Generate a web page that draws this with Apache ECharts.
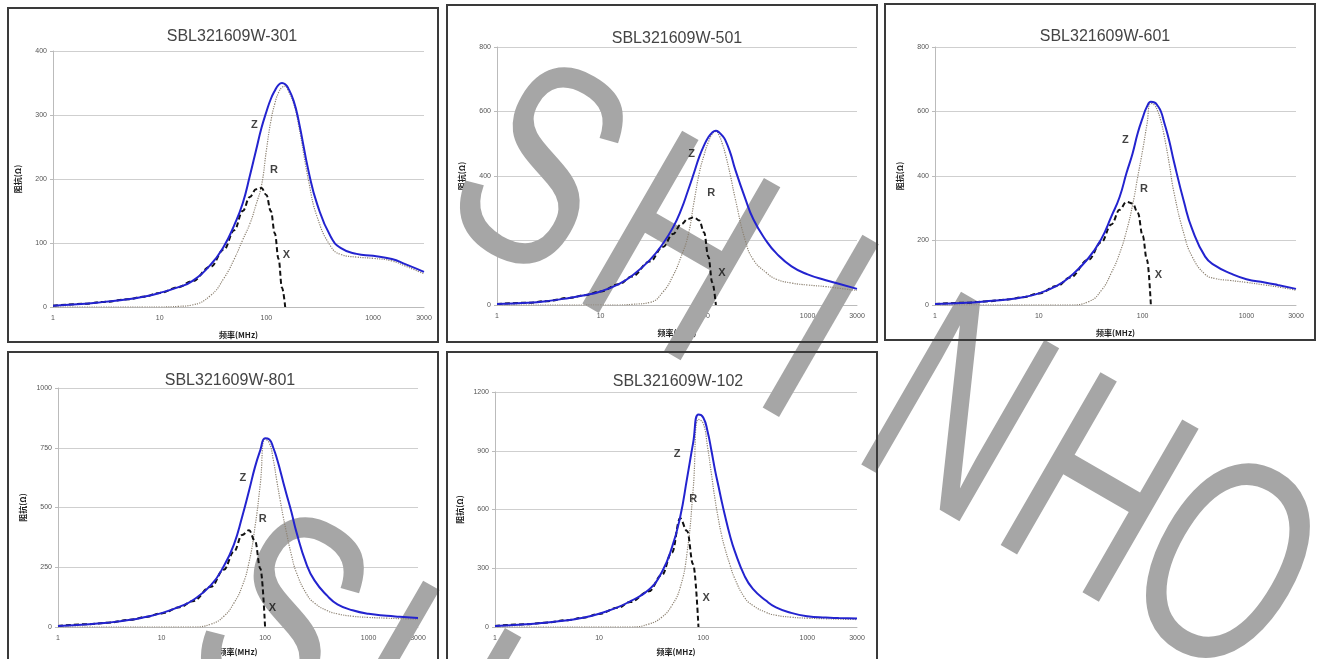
<!DOCTYPE html>
<html>
<head>
<meta charset="utf-8">
<script src="https://cdn.jsdelivr.net/npm/echarts@6/dist/echarts.min.js"></script>
<style>
  html, body { margin: 0; padding: 0; background: #fff; }
  #chart { width: 1318px; height: 659px; }
</style>
</head>
<body>
<div id="chart"></div>
<script>
// frequency points (MHz), shared by every panel
const freq = [1, 2, 3, 5, 7, 10, 15, 20, 30, 40, 50, 60, 70, 80, 90, 100, 110, 120, 130, 140,
  150, 160, 180, 200, 250, 300, 400, 500, 700, 1000, 1500, 2000, 3000];
const xTicks = [1, 10, 100, 1000, 3000];
const titles = ['SBL321609W-301', 'SBL321609W-501', 'SBL321609W-601', 'SBL321609W-801', 'SBL321609W-102'];
const yMax = [400, 800, 800, 1000, 1200];
const yStep = [100, 200, 200, 250, 300];

// impedance Z / resistance R / reactance X (ohm); X stops where it reaches 0
const z301 = [2, 5, 8, 12, 16, 22, 31, 40, 66, 95, 128, 162, 205, 245, 280, 305, 325, 338, 347, 350,
  348, 342, 322, 292, 210, 160, 110, 92, 83, 80, 75, 67, 55];
const r301 = [0, 0, 0, 0, 0, 0, 1, 3, 18, 45, 75, 105, 130, 160, 190, 245, 290, 318, 335, 343,
  345, 338, 318, 285, 195, 140, 95, 82, 78, 76, 72, 64, 52];
const x301 = [2, 5, 8, 12, 16, 22, 31, 40, 63, 90, 120, 150, 172, 184, 186, 175, 150, 115, 75, 30, 0];

const z501 = [3, 7, 12, 22, 30, 42, 65, 90, 140, 190, 240, 295, 355, 410, 460, 495, 520, 535, 540, 535,
  525, 512, 470, 420, 330, 265, 198, 160, 120, 95, 77, 66, 50];
const r501 = [0, 0, 0, 0, 0, 0, 0, 2, 8, 40, 90, 150, 215, 320, 410, 465, 505, 530, 538, 525,
  500, 470, 400, 330, 200, 140, 100, 80, 68, 62, 57, 52, 45];
const x501 = [3, 7, 12, 22, 30, 42, 64, 88, 135, 180, 220, 250, 267, 272, 262, 225, 150, 70, 0];

const z601 = [3, 7, 11, 17, 24, 36, 60, 88, 145, 205, 275, 335, 410, 470, 535, 580, 615, 630, 628, 617,
  600, 570, 510, 445, 320, 235, 150, 122, 98, 80, 70, 62, 50];
const r601 = [0, 0, 0, 0, 0, 0, 0, 0, 10, 45, 100, 160, 230, 310, 400, 480, 560, 625, 620, 600,
  570, 530, 440, 350, 220, 150, 95, 82, 76, 70, 62, 56, 46];
const x601 = [3, 7, 11, 17, 24, 36, 59, 85, 140, 195, 250, 295, 320, 315, 285, 215, 140, 0];

const z801 = [4, 12, 18, 30, 42, 58, 85, 112, 175, 255, 345, 460, 570, 670, 740, 790, 785, 750, 705, 655,
  605, 560, 480, 400, 265, 195, 130, 95, 70, 55, 47, 43, 38];
const r801 = [0, 0, 0, 0, 0, 0, 0, 0, 12, 45, 100, 170, 270, 420, 600, 785, 770, 700, 610, 530,
  460, 400, 300, 230, 140, 100, 68, 55, 45, 40, 37, 35, 33];
const x801 = [4, 12, 18, 30, 42, 57, 83, 108, 168, 240, 315, 385, 405, 360, 245, 0];

const z102 = [5, 14, 22, 35, 47, 68, 100, 132, 190, 280, 405, 560, 760, 940, 1085, 1070, 1000, 900, 800, 720,
  645, 580, 470, 390, 260, 195, 135, 100, 72, 55, 48, 46, 44];
const r102 = [0, 0, 0, 0, 0, 0, 0, 0, 15, 50, 110, 200, 380, 700, 1060, 1040, 920, 780, 650, 550,
  470, 410, 320, 250, 150, 110, 75, 60, 50, 45, 42, 40, 38];
const x102 = [5, 14, 22, 35, 47, 67, 98, 128, 182, 265, 380, 555, 490, 320, 0];

const zData = [z301, z501, z601, z801, z102];
const rData = [r301, r501, r601, r801, r102];
const xData = [x301, x501, x601, x801, x102];

// curve tags Z, R, X placed at [freq, ohm]
const tagNames = ['Z', 'R', 'X'];
const tagAt = [
  [[77, 284], [118, 214], [154, 81]],
  [[76, 468], [117, 347], [149, 99]],
  [[68, 512], [103, 360], [142, 93]],
  [[61, 622], [95, 452], [118, 78]],
  [[56, 886], [80, 653], [107, 146]]
];

// panel layout: plot area and outer frame
const plots = [
  { left: 53, top: 51, width: 371, height: 256 },
  { left: 497, top: 47, width: 360, height: 258 },
  { left: 935, top: 47, width: 361, height: 258 },
  { left: 58, top: 388, width: 360, height: 239 },
  { left: 495, top: 392, width: 362, height: 235 }
];
const frames = [
  [8, 8, 430, 334], [447, 5, 430, 337], [885, 4, 430, 336], [8, 352, 430, 320], [447, 352, 430, 320]
];
const titlePos = [[227, 24], [672, 26], [1100, 24], [225, 368], [673, 369]];

// watermark: letters, their offsets along the line, and the centre of the first letter per line
const markLetters = ['S', 'H', 'I', 'N', 'H', 'O'];
const markOffsets = [0, 161, 322, 483, 644, 792];
const markLines = [[532, 182], [273, 632]];

const chart = echarts.init(document.getElementById('chart'));

const pair = (vals) => vals.map((v, i) => [freq[i], v]);
const labelFont = { fontFamily: 'Liberation Sans', fontSize: 7, color: '#555' };
const nameFont = { fontFamily: 'Noto Sans CJK SC', fontSize: 8, fontWeight: 'bold', color: '#222' };

const grid = [], xAxis = [], yAxis = [], series = [], title = [];
plots.forEach((p, i) => {
  grid.push(p);
  title.push({
    text: titles[i], left: titlePos[i][0], top: titlePos[i][1], textAlign: 'center',
    textStyle: { fontFamily: 'Liberation Sans', fontSize: 16, fontWeight: 'normal', color: '#444' }
  });
  xAxis.push({
    type: 'log', logBase: 10, min: 1, max: 3000, gridIndex: i,
    name: '频率(MHz)', nameLocation: 'middle', nameGap: i < 3 ? 24 : 21, nameTextStyle: nameFont,
    axisLine: { lineStyle: { color: '#bbb' } },
    axisTick: { show: false },
    axisLabel: { ...labelFont, customValues: xTicks, formatter: (v) => String(Math.round(v)) },
    splitLine: { show: false }
  });
  yAxis.push({
    type: 'value', min: 0, max: yMax[i], interval: yStep[i], gridIndex: i,
    name: '阻抗(Ω)', nameLocation: 'middle', nameGap: 31, nameTextStyle: nameFont,
    axisLine: { show: true, lineStyle: { color: '#bbb' } },
    axisTick: { show: true, length: 3, lineStyle: { color: '#bbb' } },
    axisLabel: { ...labelFont, margin: 6, formatter: (v) => String(v) },
    splitLine: { lineStyle: { color: '#cfcfcf', width: 1 } }
  });
  const common = { type: 'line', xAxisIndex: i, yAxisIndex: i, showSymbol: false, z: 3 };
  series.push({ ...common, name: 'R', data: pair(rData[i]), smooth: 0.5,
    lineStyle: { color: '#8d8272', width: 1.2, type: 'dotted' }, itemStyle: { color: '#8d8272' } });
  series.push({ ...common, name: 'X', data: pair(xData[i]), smooth: 0.4, smoothMonotone: 'x',
    lineStyle: { color: '#111', width: 2, type: [5, 3] }, itemStyle: { color: '#111' } });
  series.push({ ...common, name: 'Z', data: pair(zData[i]), smooth: 0.5,
    lineStyle: { color: '#2323cf', width: 2 }, itemStyle: { color: '#2323cf' } });
  series.push({
    type: 'scatter', xAxisIndex: i, yAxisIndex: i, symbolSize: 1, z: 4,
    itemStyle: { color: 'transparent' },
    data: tagAt[i].map((t, k) => [t[0], t[1], tagNames[k]]),
    label: { show: true, position: 'inside', formatter: (p) => p.data[2],
      fontFamily: 'Liberation Sans', fontSize: 11, fontWeight: 'bold', color: '#111' }
  });
});

const graphic = frames.map((f) => ({
  type: 'rect', silent: true, z: 10,
  shape: { x: f[0], y: f[1], width: f[2], height: f[3] },
  style: { fill: 'none', stroke: '#3a3a3a', lineWidth: 2 }
}));
// diagonal watermark, one text element per letter along a 30° line
const ang = Math.PI / 6;
markLines.forEach((start) => {
  markLetters.forEach((ch, k) => {
    graphic.push({
      type: 'text', silent: true, z: 1,
      x: start[0] + markOffsets[k] * Math.cos(ang), y: start[1] + markOffsets[k] * Math.sin(ang),
      rotation: -ang, scaleX: 0.7,
      style: {
        text: ch, font: '290px "Liberation Sans"', fill: '#a6a6a6',
        textAlign: 'center', textVerticalAlign: 'middle', align: 'center', verticalAlign: 'middle'
      }
    });
  });
});

chart.setOption({
  animation: false,
  backgroundColor: '#fff',
  title, grid, xAxis, yAxis, series, graphic
});
</script>
</body>
</html>
